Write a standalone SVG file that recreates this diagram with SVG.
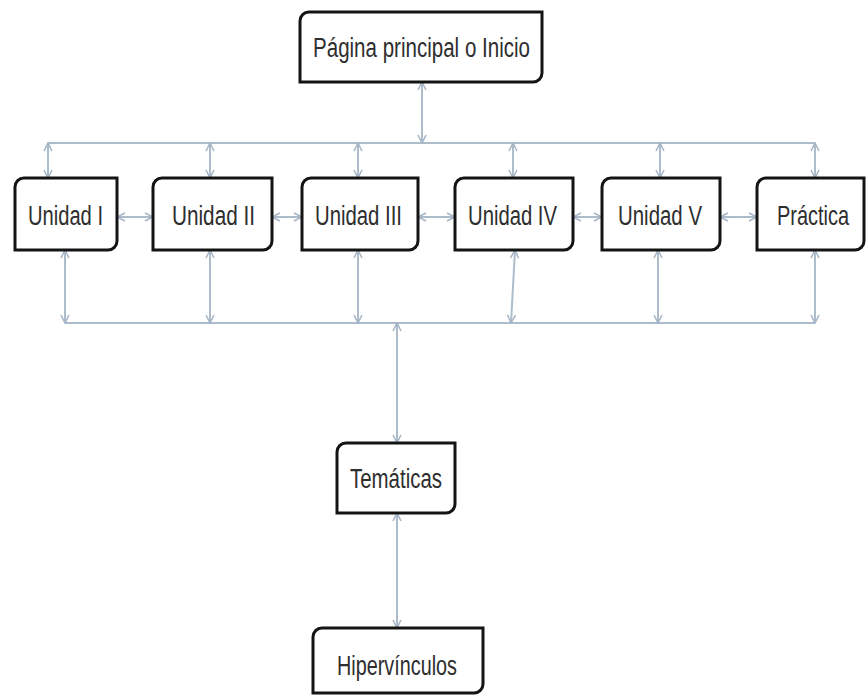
<svg xmlns="http://www.w3.org/2000/svg" width="868" height="698" viewBox="0 0 868 698">
  <defs>
    <marker id="tip" viewBox="0 0 10 10" refX="9" refY="5" markerWidth="10" markerHeight="10" markerUnits="userSpaceOnUse" orient="auto-start-reverse">
      <path d="M1,1 L9,5 L1,9" fill="none" stroke="#a5b5c6" stroke-width="1.5"/>
    </marker>
  </defs>
  <style>
    .box { fill: #ffffff; stroke: #141414; stroke-width: 3; }
    .lbl { font-family: "Liberation Sans", Arial, sans-serif; font-size: 27px; fill: #2e2e2e; text-anchor: middle; }
    .wire { fill: none; stroke: #adbccb; stroke-width: 2; }
    .arr { fill: none; stroke: #adbccb; stroke-width: 2; marker-start: url(#tip); marker-end: url(#tip); }
  </style>
  <rect width="868" height="698" fill="#ffffff"/>

  <g id="connectors">
    <!-- upper bus -->
    <path class="wire" d="M48,143 H815"/>
    <path class="arr" d="M422,82 V143"/>
    <path class="arr" d="M48,143 V178"/>
    <path class="arr" d="M210,143 V178"/>
    <path class="arr" d="M358,143 V178"/>
    <path class="arr" d="M513,143 V178"/>
    <path class="arr" d="M660,143 V178"/>
    <path class="arr" d="M815,143 V178"/>
    <!-- links between neighbouring units -->
    <path class="arr" d="M117,217 H153"/>
    <path class="arr" d="M272,217 H302"/>
    <path class="arr" d="M418,217 H455"/>
    <path class="arr" d="M573,217 H602"/>
    <path class="arr" d="M720,217 H757"/>
    <!-- lower bus -->
    <path class="wire" d="M65,323 H815"/>
    <path class="arr" d="M65,250 V323"/>
    <path class="arr" d="M210,250 V323"/>
    <path class="arr" d="M358,250 V323"/>
    <path class="arr" d="M515,250 L511,323"/>
    <path class="arr" d="M658,250 V323"/>
    <path class="arr" d="M815,250 V323"/>
    <!-- down to topics and links -->
    <path class="arr" d="M397,323 V443"/>
    <path class="arr" d="M397,513 V628"/>
  </g>

  <g id="inicio">
    <path class="box" d="M309,12 H542 V73 A9,9 0 0 1 533,82 H300 V21 A9,9 0 0 1 309,12 Z"/>
    <text class="lbl" x="421.5" y="57" textLength="217" lengthAdjust="spacingAndGlyphs">Página principal o Inicio</text>
  </g>

  <g id="unidad1">
    <path class="box" d="M24,178 H117 V241 A9,9 0 0 1 108,250 H15 V187 A9,9 0 0 1 24,178 Z"/>
    <text class="lbl" x="65.5" y="225" textLength="75" lengthAdjust="spacingAndGlyphs">Unidad I</text>
  </g>

  <g id="unidad2">
    <path class="box" d="M162,178 H272 V241 A9,9 0 0 1 263,250 H153 V187 A9,9 0 0 1 162,178 Z"/>
    <text class="lbl" x="213.5" y="225" textLength="83" lengthAdjust="spacingAndGlyphs">Unidad II</text>
  </g>

  <g id="unidad3">
    <path class="box" d="M311,178 H418 V241 A9,9 0 0 1 409,250 H302 V187 A9,9 0 0 1 311,178 Z"/>
    <text class="lbl" x="358.5" y="225" textLength="87" lengthAdjust="spacingAndGlyphs">Unidad III</text>
  </g>

  <g id="unidad4">
    <path class="box" d="M464,178 H573 V241 A9,9 0 0 1 564,250 H455 V187 A9,9 0 0 1 464,178 Z"/>
    <text class="lbl" x="512.5" y="225" textLength="89" lengthAdjust="spacingAndGlyphs">Unidad IV</text>
  </g>

  <g id="unidad5">
    <path class="box" d="M611,178 H720 V241 A9,9 0 0 1 711,250 H602 V187 A9,9 0 0 1 611,178 Z"/>
    <text class="lbl" x="660" y="225" textLength="84" lengthAdjust="spacingAndGlyphs">Unidad V</text>
  </g>

  <g id="practica">
    <path class="box" d="M766,178 H864 V241 A9,9 0 0 1 855,250 H757 V187 A9,9 0 0 1 766,178 Z"/>
    <text class="lbl" transform="translate(813,225) scale(0.74,1)" x="0" y="0">Práctica</text>
  </g>

  <g id="tematicas">
    <path class="box" d="M346,443 H455 V504 A9,9 0 0 1 446,513 H337 V452 A9,9 0 0 1 346,443 Z"/>
    <text class="lbl" x="396" y="488" textLength="92" lengthAdjust="spacingAndGlyphs">Temáticas</text>
  </g>

  <g id="hipervinculos">
    <path class="box" d="M322,628 H483 V684 A9,9 0 0 1 474,693 H313 V637 A9,9 0 0 1 322,628 Z"/>
    <text class="lbl" x="397" y="675" textLength="120" lengthAdjust="spacingAndGlyphs">Hipervínculos</text>
  </g>
</svg>
